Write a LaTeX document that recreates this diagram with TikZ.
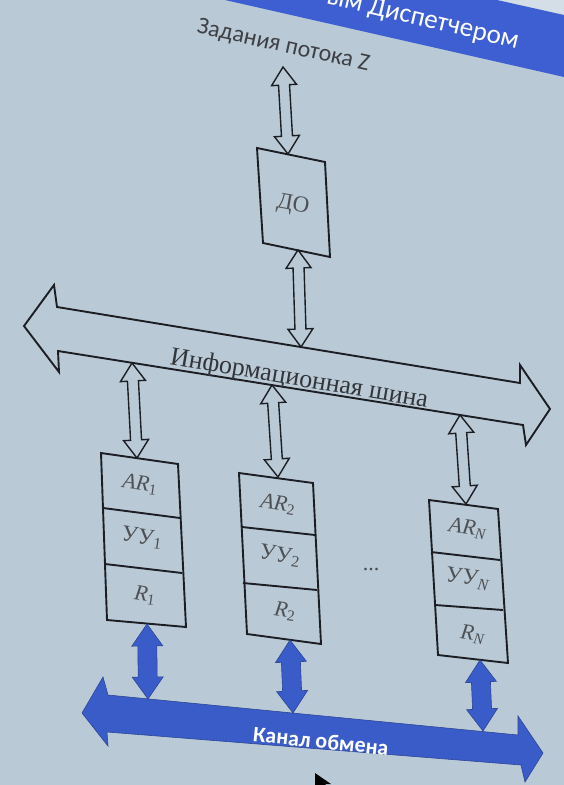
\documentclass[tikz,border=0pt]{standalone}
\usepackage{fontspec}
\setmainfont{Liberation Serif}
\newfontfamily\carl{Carlito}
\usetikzlibrary{calc}
\definecolor{bg}{HTML}{B9CAD6}
\definecolor{bglight}{HTML}{D3DEE6}
\definecolor{ink}{HTML}{1C1E24}
\definecolor{busblue}{HTML}{3A5CC8}
\definecolor{titleblue}{HTML}{3D5FD2}
\newcommand{\lsub}[1]{\textsubscript{#1}}
\newcommand{\dblarrow}[6]{%
  \path[#6] (#1) -- ($(#1)!#3!(#2)!#4!90:(#2)$) -- ($(#1)!#3!(#2)!#5!90:(#2)$)
    -- ($(#2)!#3!(#1)!#5!-90:(#1)$) -- ($(#2)!#3!(#1)!#4!-90:(#1)$) -- (#2)
    -- ($(#2)!#3!(#1)!#4!90:(#1)$) -- ($(#2)!#3!(#1)!#5!90:(#1)$)
    -- ($(#1)!#3!(#2)!#5!-90:(#2)$) -- ($(#1)!#3!(#2)!#4!-90:(#2)$) -- cycle;}
\begin{document}
\begin{tikzpicture}[x=1pt,y=-1pt,
  hollow/.style={draw=ink, fill=bg, line width=1.4pt, line join=miter},
  bluearr/.style={draw=busblue!75!black, fill=busblue, line width=0.6pt, line join=miter},
  boxline/.style={draw=ink, line width=1.9pt, line join=miter},
  bustext/.style={font=\fontsize{26}{26}\selectfont, text=ink!90, inner sep=0pt},
  celltext/.style={font=\fontsize{22}{22}\selectfont, text=ink!78, inner sep=0pt},
  uutext/.style={font=\fontsize{23}{23}\selectfont, text=ink!78, inner sep=0pt},
  sanstext/.style={font=\carl\fontsize{24}{24}\selectfont, text=ink!85, inner sep=0pt}]
\useasboundingbox (0,0) rectangle (564,785);
\clip (0,0) rectangle (564,785);
\fill[bg] (0,0) rectangle (564,785);

% title band
\fill[bglight] (490,0) -- (564,0) -- (564,16) -- cycle;
\fill[titleblue] (225,0) -- (497,0) -- (564,15) -- (564,77) -- cycle;
\node[font=\carl\fontsize{27}{27}\selectfont, text=white, inner sep=0pt, anchor=base east, rotate=-13.5] (title) at (517,49) {ым Диспетчером};

% tasks text
\node[sanstext, anchor=base, rotate=-12.5] (task) at (282,52) {Задания потока Z};
\coordinate (taskA) at (283,67);

% DO box
\coordinate (do-nw) at (257,148);
\coordinate (do-ne) at (325,162);
\coordinate (do-se) at (330,257);
\coordinate (do-sw) at (263,243);
\path[boxline] (do-nw) -- (do-ne) -- (do-se) -- (do-sw) -- cycle;
\node[font=\fontsize{23}{23}\selectfont, text=ink!78, inner sep=0pt, rotate=-10] (DO) at (293,205) {ДО};
\coordinate (doT) at (288,154);
\coordinate (doB) at (298,250);

% information bus
\coordinate (ib-tip-l) at (24,326);
\coordinate (ib-tip-r) at (550,409);
\path[draw=ink, fill=bg, line width=1.9pt, line join=miter]
  (ib-tip-l) -- (54,285) -- (57,307) -- (520,383) -- (520,365) -- (ib-tip-r)
  -- (526,445) -- (523,425) -- (58,351) -- (59,372) -- cycle;
\node[bustext, anchor=base, rotate=-9.6] (ib) at (298,386) {Информационная шина};
\coordinate (ibD) at (301,347);
\coordinate (ib1) at (132,363);
\coordinate (ib2) at (272,385);
\coordinate (ibN) at (460,415);

% hollow arrows
\dblarrow{taskA}{doT}{18pt}{12.5pt}{5.5pt}{hollow}
\dblarrow{doB}{ibD}{18pt}{12.5pt}{5.5pt}{hollow}

% processor columns
\coordinate (c1-nw) at (101,453); \coordinate (c1-ne) at (178,464);
\coordinate (c1-aw) at (103,508); \coordinate (c1-ae) at (180,518);
\coordinate (c1-bw) at (105,564); \coordinate (c1-be) at (182,573);
\coordinate (c1-sw) at (107,620); \coordinate (c1-se) at (186,627);
\coordinate (c2-nw) at (239,473); \coordinate (c2-ne) at (313,483);
\coordinate (c2-aw) at (242,527); \coordinate (c2-ae) at (315,535);
\coordinate (c2-bw) at (243,583); \coordinate (c2-be) at (317,590);
\coordinate (c2-sw) at (247,634); \coordinate (c2-se) at (321,644);
\coordinate (cN-nw) at (429,500); \coordinate (cN-ne) at (498,509);
\coordinate (cN-aw) at (431,552); \coordinate (cN-ae) at (500,560);
\coordinate (cN-bw) at (435,605); \coordinate (cN-be) at (503,610);
\coordinate (cN-sw) at (438,655); \coordinate (cN-se) at (508,663);
\foreach \c in {c1,c2,cN}{
  \path[boxline] (\c-nw) -- (\c-ne) -- (\c-se) -- (\c-sw) -- cycle;
  \path[boxline] (\c-aw) -- (\c-ae);
  \path[boxline] (\c-bw) -- (\c-be);
}
\node[celltext, rotate=-8] (ar1) at (140,484) {\textit{AR}\lsub{1}};
\node[uutext, rotate=-8] (uu1) at (142,538) {УУ\lsub{1}};
\node[celltext, rotate=-8] (r1) at (145,595) {\textit{R}\lsub{1}};
\node[celltext, rotate=-8] (ar2) at (278,504) {\textit{AR}\lsub{2}};
\node[uutext, rotate=-8] (uu2) at (280,556) {УУ\lsub{2}};
\node[celltext, rotate=-8] (r2) at (285,611) {\textit{R}\lsub{2}};
\node[celltext, rotate=-8] (arN) at (468,529) {\textit{AR}\lsub{\textit{N}}};
\node[uutext, rotate=-8] (uuN) at (468,579) {УУ\lsub{\textit{N}}};
\node[celltext, rotate=-8] (rN) at (473,635) {\textit{R}\lsub{\textit{N}}};
\node[font=\fontsize{22}{22}\selectfont, text=ink!80, inner sep=0pt] (dots) at (371,570) {...};

\coordinate (c1T) at (137,458);
\coordinate (c2T) at (278,477);
\coordinate (cNT) at (466,504);
\dblarrow{ib1}{c1T}{18pt}{12.5pt}{5.5pt}{hollow}
\dblarrow{ib2}{c2T}{18pt}{12.5pt}{5.5pt}{hollow}
\dblarrow{ibN}{cNT}{18pt}{12.5pt}{5.5pt}{hollow}

% exchange channel
\coordinate (ch-tip-l) at (82,713);
\coordinate (ch-tip-r) at (543,753);
\path[bluearr] (ch-tip-l) -- (103,677) -- (108,695) -- (518,735) -- (518,716) -- (ch-tip-r)
  -- (525,782) -- (521,765) -- (107,732) -- (108,746) -- cycle;
\node[font=\carl\bfseries\fontsize{22}{22}\selectfont, text=white, inner sep=0pt, rotate=-5.8] (ch) at (321,741) {Канал обмена};
\coordinate (c1B) at (147,624);
\coordinate (c2B) at (290,640);
\coordinate (cNB) at (480,660);
\coordinate (ch1) at (148,699);
\coordinate (ch2) at (293,713);
\coordinate (chN) at (483,731);
\dblarrow{c1B}{ch1}{22pt}{15.5pt}{9.5pt}{bluearr}
\dblarrow{c2B}{ch2}{22pt}{15.5pt}{9.5pt}{bluearr}
\dblarrow{cNB}{chN}{22pt}{15.5pt}{9.5pt}{bluearr}

% mouse pointer
\fill[black] (315,773) -- (315,788) -- (319,785) -- (322,790) -- (330,790) -- (325,784) -- (331,784) -- cycle;
\end{tikzpicture}
\end{document}
